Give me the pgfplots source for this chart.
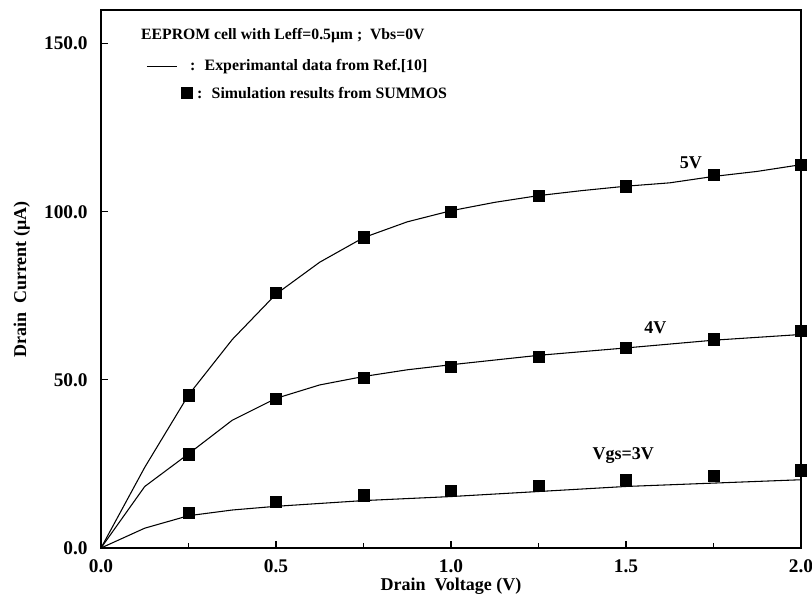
\documentclass[border=0pt]{standalone}
\usepackage{fontspec}
\setmainfont{Liberation Serif}
\usepackage{pgfplots}
\pgfplotsset{compat=1.18}
\begin{document}
\begin{tikzpicture}
\useasboundingbox (-75.75pt,-41.25pt) rectangle (533.25pt,411pt);
\begin{axis}[
  scale only axis,
  width=525pt, height=403.5pt,
  xmin=0, xmax=2, ymin=0, ymax=160,
  axis line style={line width=1pt},
  tick style={line width=0.8pt, black},
  tick align=inside,
  xtick={0,0.5,1,1.5,2},
  xticklabels={0.0,0.5,1.0,1.5,2.0},
  minor xtick={0.25,0.75,1.25,1.75},
  ytick={0,50,100,150},
  yticklabels={0.0,50.0,100.0,150.0},
  xtick pos=bottom, ytick pos=left,
  major tick length=5pt, minor tick length=4pt,
  ticklabel style={font=\fontsize{14.5}{16}\selectfont\bfseries},
  yticklabel style={xshift=-6.5pt},
  xticklabel style={yshift=-5pt},
  xlabel={Drain\ \ Voltage (V)},
  ylabel={Drain\ \ Current (μA)},
  label style={font=\fontsize{13.5}{16}\selectfont\bfseries},
  xlabel style={at={(axis description cs:0.5,-0.071)}, anchor=center},
  ylabel style={at={(axis description cs:-0.113,0.4987)}, anchor=center},
  clip=false,
]
% experimental lines
\addplot[black, line width=0.8pt] coordinates {(0,0)(0.125,24)(0.25,45.5)(0.375,62)(0.5,75.5)(0.625,85)(0.75,92.3)(0.875,97)(1.0,100.3)(1.125,102.8)(1.25,104.8)(1.375,106.3)(1.5,107.6)(1.625,108.6)(1.75,110.5)(1.875,112)(2.0,114)};
\addplot[black, line width=0.8pt] coordinates {(0,0)(0.125,18.3)(0.25,28)(0.375,38)(0.5,44.5)(0.625,48.5)(0.75,51)(0.875,53)(1.0,54.5)(1.25,57.3)(1.5,59.5)(1.75,61.8)(2.0,63.5)};
\addplot[black, line width=0.8pt] coordinates {(0,0)(0.125,5.9)(0.25,9.6)(0.375,11.3)(0.5,12.4)(0.75,14.1)(1.0,15.3)(1.25,16.8)(1.5,18.3)(1.75,19.3)(2.0,20.3)};
% simulation squares
\addplot[only marks, mark=square*, mark size=4.2pt, black] coordinates {(0.25,45.4)(0.5,75.8)(0.75,92.4)(1.0,100)(1.25,104.7)(1.5,107.6)(1.75,110.9)(2.0,113.9)};
\addplot[only marks, mark=square*, mark size=4.2pt, black] coordinates {(0.25,27.9)(0.5,44.3)(0.75,50.7)(1.0,54.0)(1.25,56.9)(1.5,59.6)(1.75,62.1)(2.0,64.6)};
\addplot[only marks, mark=square*, mark size=4.2pt, black] coordinates {(0.25,10.4)(0.5,13.8)(0.75,15.7)(1.0,17.1)(1.25,18.5)(1.5,20.3)(1.75,21.6)(2.0,23.1)};
% legend graphics
\addplot[black, line width=0.8pt] coordinates {(0.131,143.3)(0.217,143.3)};
\addplot[only marks, mark=square*, mark size=4.2pt, black] coordinates {(0.246,135.3)};
% texts
\node[anchor=west, inner sep=0pt, font=\fontsize{11.8}{14}\selectfont\bfseries] at (axis cs:0.114,152.3) {EEPROM cell with Leff=0.5μm ;\ \ Vbs=0V};
\node[anchor=west, inner sep=0pt, font=\fontsize{11.9}{14}\selectfont\bfseries] at (axis cs:0.254,143.3) {: \ Experimantal data from Ref.[10]};
\node[anchor=west, inner sep=0pt, font=\fontsize{11.9}{14}\selectfont\bfseries] at (axis cs:0.274,135.3) {: \ Simulation results from SUMMOS};
\node[font=\fontsize{13.5}{14}\selectfont\bfseries] at (axis cs:1.685,114.6) {5V};
\node[font=\fontsize{13.5}{14}\selectfont\bfseries] at (axis cs:1.584,65.6) {4V};
\node[font=\fontsize{13.5}{14}\selectfont\bfseries] at (axis cs:1.492,27.4) {Vgs=3V};
\end{axis}
\end{tikzpicture}
\end{document}
